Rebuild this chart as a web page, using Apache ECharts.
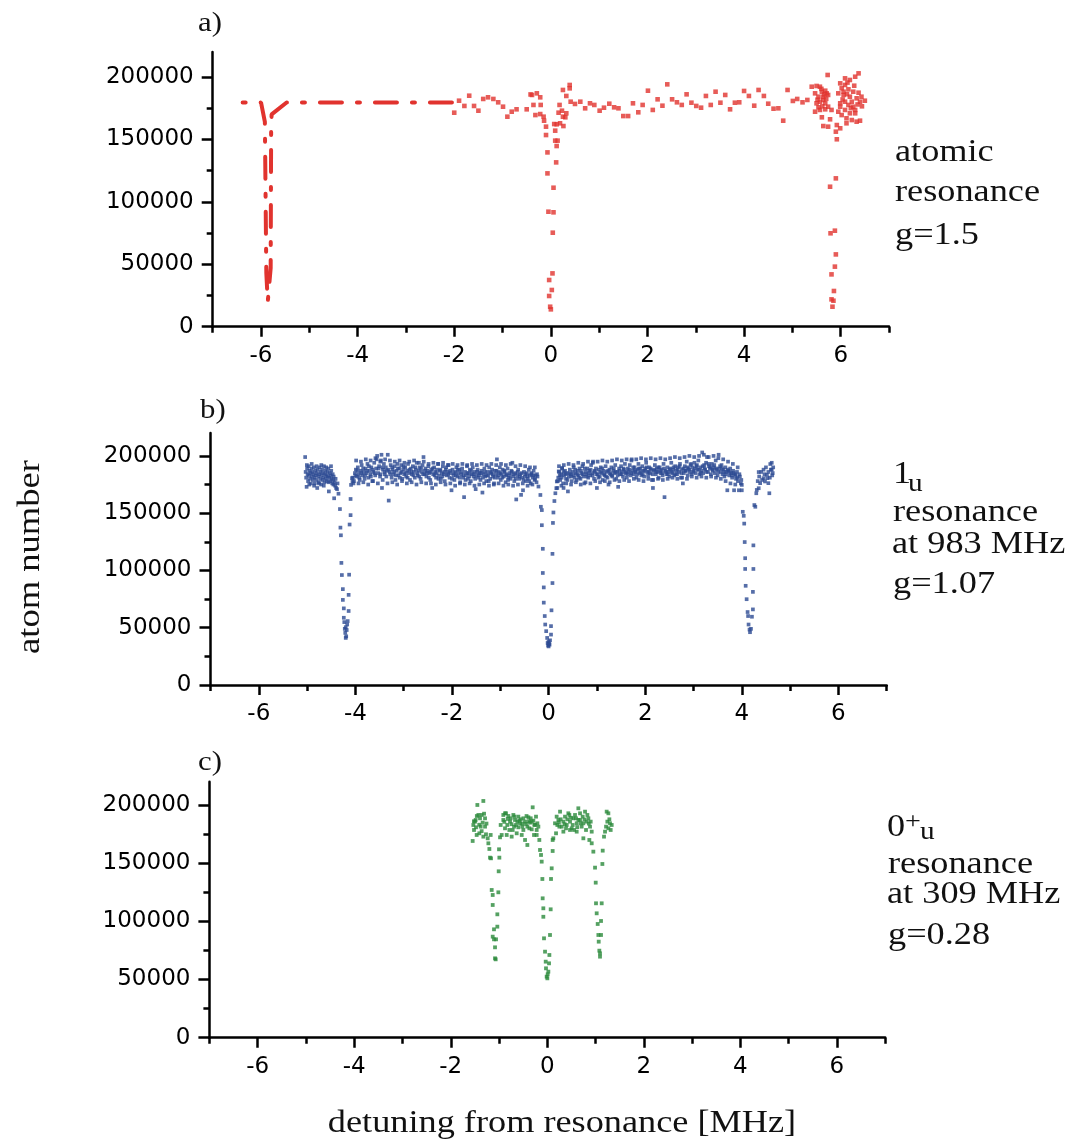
<!DOCTYPE html>
<html><head><meta charset="utf-8">
<script src="https://cdn.jsdelivr.net/npm/echarts@6/dist/echarts.min.js"></script>
<style>html,body{margin:0;padding:0;background:#fff}#c{width:1069px;height:1142px}</style>
</head><body><div id="c"></div>
<script>
// ---- tick values ----
const xTickLabels = [-6, -4, -2, 0, 2, 4, 6];
const xMinorTicks = [-7, -5, -3, -1, 1, 3, 5, 7];
const yTickLabels = [0, 50000, 100000, 150000, 200000];
const yMinorTicks = [25000, 75000, 125000, 175000];
const panelLabels = ['a)', 'b)', 'c)'];

// ---- panel a: atomic resonance (red) ----
const atomicLine = [[-6.38,179600],[-6.0,179600],[-5.92,164000],[-5.89,43000],[-5.86,20000],[-5.80,47000],[-5.79,161000],[-5.78,170000],[-5.47,179600],[-1.99,179600]];
const atomicPoints = [
[-2.00,171400],[-1.90,181000],[-1.79,176800],[-1.69,185000],[-1.59,176800],[-1.50,173000],[-1.40,182400],[-1.30,183700],[-1.19,182400],[-1.09,179700],[-0.99,176200],[-0.90,168200],[-0.81,172200],[-0.71,174100],[-0.50,174100],
[-0.42,186000],[-0.39,185600],[-0.29,186900],[-0.22,183700],[-0.36,177600],[-0.21,177600],[-0.32,169500],[-0.22,170300],[-0.15,168200],[-0.14,165000],[-0.10,160200],[-0.10,153500],[-0.07,139600],[-0.07,122800],[-0.05,92100],[-0.035,37400],[-0.035,24600],[-0.014,16000],[0.0,13900],[0.02,29400],[0.034,42700],[0.04,75300],[0.055,91600],[0.055,111300],[0.11,131600],[0.12,144700],[0.09,149000],[0.14,149000],[0.09,157000],[0.12,162100],[0.07,162300],[0.19,162900],[0.26,160700],[0.16,171400],[0.23,173000],[0.32,170900],[0.25,168200],[0.30,167700],[0.18,177600],[0.25,189600],[0.32,184800],[0.39,193600],[0.39,190900],[0.41,180200],
[0.50,178400],[0.61,180200],[0.71,174900],[0.81,178900],[0.90,177600],[1.01,173000],[1.10,175400],[1.21,178600],[1.31,175700],[1.40,174900],[1.50,168700],[1.60,168700],[1.70,178900],[1.81,171700],[1.90,177600],[2.01,189000],[2.11,173600],[2.21,182100],[2.31,177000],[2.41,194100],[2.51,182100],[2.61,179700],[2.71,177600],[2.81,186100],[2.91,179400],[3.01,176800],[3.11,175400],[3.21,184800],[3.31,177600],[3.41,188200],[3.51,179400],[3.61,185600],[3.71,174100],[3.81,179400],[3.90,179700],[4.00,188800],[4.10,184800],[4.21,177000],[4.30,189600],[4.41,184800],[4.50,178600],[4.61,174600],[4.71,174900],[4.81,165000],[4.90,189600],[5.01,180800],[5.10,182400],[5.21,179700],[5.31,181600],
[5.40,192200],[5.50,192800],[5.57,192200],[5.61,188200],[5.68,189000],[5.71,186900],[5.47,186900],[5.54,184200],[5.64,184200],[5.73,201600],[5.74,185600],[5.57,180200],[5.64,181600],[5.50,178900],[5.68,178900],[5.47,172200],[5.57,173600],[5.68,174100],[5.74,176200],[5.54,175700],[5.61,167700],[5.64,160700],[5.74,160200],[5.78,166100],[5.81,173600],[5.92,161500],[5.99,158900],[5.90,156200],[5.92,150100],[5.90,118800],[5.78,112100],[5.79,74800],[5.88,76900],[5.90,57900],[5.88,48100],[5.81,41900],[5.86,28600],[5.81,21900],[5.85,20800],[5.83,16000],
[5.99,194900],[6.09,198900],[6.19,197600],[6.30,200200],[6.37,202900],[6.09,193600],[6.02,190900],[6.16,190100],[6.26,188200],[6.37,187400],[5.95,186900],[6.06,185600],[6.19,184200],[6.33,182900],[6.43,184200],[5.99,178900],[6.09,180200],[6.23,180200],[6.40,180200],[6.50,181000],[5.95,172200],[6.09,173600],[6.19,170900],[6.30,173600],[6.02,169500],[6.12,166900],[6.23,165500],[6.33,164200],[6.40,165000],[6.12,162900],[5.99,176200],[6.26,176200],[6.16,177600],[6.30,170900],[6.06,188200],
[5.60,190500],[5.66,186000],[5.70,182500],[5.52,181800],[5.62,176500],[6.04,182000],[6.13,186200],[6.21,175000],[6.35,178000],[6.28,193000],[6.14,195500],[6.44,176500]
];

// ---- panel b: 1u resonance at 983 MHz (blue) ----
const u1Points = [
[-5.04,199e3],[-5.03,186e3],[-5.02,181e3],[-5.01,173e3],[-5.00,189e3],[-4.99,184e3],[-4.98,178e3],[-4.97,191e3],[-4.96,183e3],[-4.95,187e3],[-4.94,180e3],[-4.93,185e3],[-4.92,176e3],[-4.91,189e3],[-4.90,182e3],[-4.89,186e3],[-4.88,179e3],[-4.87,184e3],[-4.86,190e3],[-4.85,181e3],[-4.84,176e3],[-4.83,187e3],[-4.82,183e3],[-4.81,179e3],[-4.80,185e3],[-4.79,172e3],[-4.78,188e3],[-4.77,182e3],[-4.76,177e3],[-4.75,184e3],[-4.74,190e3],[-4.73,180e3],[-4.72,186e3],[-4.71,175e3],[-4.70,183e3],[-4.69,188e3],[-4.68,179e3],[-4.67,185e3],[-4.66,181e3],[-4.65,191e3],[-4.64,177e3],[-4.63,184e3],[-4.62,187e3],[-4.61,180e3],[-4.60,183e3],[-4.59,178e3],[-4.58,186e3],[-4.57,182e3],[-4.56,189e3],[-4.55,169e3],[-4.54,181e3],[-4.53,185e3],[-4.52,178e3],[-4.51,183e3],[-4.50,187e3],[-4.49,180e3],[-4.48,176e3],[-4.47,184e3],[-4.46,179e3],[-4.45,182e3],[-4.44,163e3],[-4.43,177e3],[-4.42,174e3],[-4.41,180e3],[-4.40,172e3],[-4.38,171e3],[-4.37,176e3],[-4.35,167e3],
[-5.005,192e3],[-4.955,175e3],[-4.905,193e3],[-4.855,174e3],[-4.805,191e3],[-4.755,176e3],[-4.705,192e3],[-4.655,174e3],[-4.605,190e3],[-4.555,177e3],[-4.505,191e3],[-4.455,175e3],
[-4.32,153600],[-4.31,137400],[-4.30,130700],[-4.29,106600],[-4.28,96000],[-4.26,83700],[-4.26,74300],[-4.24,66900],[-4.24,58700],[-4.23,54900],[-4.22,49000],[-4.21,45500],[-4.20,41100],[-4.19,42500],[-4.18,48000],[-4.20,50500],[-4.17,52800],[-4.16,55800],[-4.14,64600],[-4.14,78700],[-4.13,96300],[-4.12,140100],[-4.10,148300],[-4.10,162400],[-4.09,174700],[-4.07,180600],[-4.06,177700],
[-4.05,181e3],[-4.03,178e3],[-4.01,185e3],[-3.99,188e3],[-3.97,182e3],[-3.95,190e3],[-3.93,184e3],[-3.91,179e3],[-3.89,187e3],[-3.87,192e3],[-3.85,183e3],[-3.83,186e3],[-3.81,180e3],[-3.79,189e3],[-3.77,185e3],[-3.75,193e3],[-3.73,181e3],[-3.71,187e3],[-3.69,184e3],[-3.67,190e3],[-3.65,178e3],[-3.63,186e3],[-3.61,194e3],[-3.59,183e3],[-3.57,189e3],[-3.55,200e3],[-3.53,185e3],[-3.51,191e3],[-3.49,182e3],[-3.47,196e3],[-3.46,201e3],[-3.45,172e3],[-3.43,188e3],[-3.41,193e3],[-3.39,184e3],[-3.37,190e3],[-3.35,187e3],[-3.33,201e3],[-3.31,161e3],[-3.29,186e3],[-3.27,192e3],[-3.25,181e3],[-3.23,188e3],[-3.21,184e3],[-3.19,191e3],[-3.17,179e3],[-3.15,187e3],[-3.13,193e3],[-3.11,183e3],[-3.09,189e3],[-3.07,185e3],[-3.05,192e3],[-3.03,180e3],[-3.01,188e3],[-2.99,184e3],[-2.97,190e3],[-2.95,182e3],[-2.93,187e3],[-2.91,193e3],[-2.89,185e3],[-2.87,179e3],[-2.85,189e3],[-2.83,184e3],[-2.81,191e3],[-2.79,186e3],[-2.77,181e3],[-2.75,188e3],[-2.73,194e3],[-2.71,183e3],[-2.69,187e3],[-2.67,190e3],[-2.65,180e3],[-2.63,186e3],[-2.61,192e3],[-2.59,199e3],[-2.57,184e3],[-2.55,189e3],[-2.53,182e3],[-2.51,187e3],[-2.49,191e3],[-2.47,185e3],[-2.45,179e3],[-2.43,188e3],[-2.41,172e3],[-2.39,184e3],[-2.37,190e3],[-2.35,186e3],[-2.33,181e3],[-2.31,188e3],[-2.29,193e3],[-2.27,183e3],[-2.25,187e3],[-2.23,180e3],[-2.21,185e3],[-2.19,191e3],[-2.17,184e3],[-2.15,178e3],[-2.13,188e3],[-2.11,183e3],[-2.09,186e3],[-2.07,192e3],[-2.05,181e3],[-2.03,185e3],[-2.01,170e3],[-1.99,188e3],[-1.97,183e3],[-1.95,179e3],[-1.93,186e3],[-1.91,190e3],[-1.89,182e3],[-1.87,185e3],[-1.85,188e3],[-1.83,177e3],[-1.81,184e3],[-1.79,189e3],[-1.77,181e3],[-1.75,164e3],[-1.73,186e3],[-1.71,183e3],[-1.69,191e3],[-1.67,180e3],[-1.65,185e3],[-1.63,188e3],[-1.61,178e3],[-1.59,184e3],[-1.57,190e3],[-1.55,182e3],[-1.53,186e3],[-1.51,171e3],[-1.49,183e3],[-1.47,188e3],[-1.45,181e3],[-1.43,185e3],[-1.41,179e3],[-1.39,187e3],[-1.37,168e3],[-1.35,184e3],[-1.33,189e3],[-1.31,182e3],[-1.29,178e3],[-1.27,186e3],[-1.25,183e3],[-1.23,190e3],[-1.21,180e3],[-1.19,185e3],[-1.17,188e3],[-1.15,182e3],[-1.13,176e3],[-1.11,187e3],[-1.09,184e3],[-1.07,197e3],[-1.05,181e3],[-1.03,186e3],[-1.01,190e3],[-0.99,179e3],[-0.97,184e3],[-0.95,188e3],[-0.93,182e3],[-0.91,186e3],[-0.89,177e3],[-0.87,183e3],[-0.85,189e3],[-0.83,181e3],[-0.81,185e3],[-0.79,180e3],[-0.77,187e3],[-0.75,194e3],[-0.73,182e3],[-0.71,178e3],[-0.69,185e3],[-0.67,162e3],[-0.65,183e3],[-0.63,188e3],[-0.61,180e3],[-0.59,184e3],[-0.57,166e3],[-0.55,181e3],[-0.53,170e3],[-0.51,186e3],[-0.49,182e3],[-0.47,178e3],[-0.45,185e3],[-0.43,180e3],[-0.41,188e3],[-0.39,183e3],[-0.37,176e3],[-0.35,184e3],[-0.33,181e3],[-0.31,187e3],[-0.29,179e3],[-0.27,183e3],[-0.25,177e3],[-0.23,182e3],
[-4.04,176e3],[-4.00,183e3],[-3.96,187e3],[-3.92,181e3],[-3.88,185e3],[-3.84,189e3],[-3.80,183e3],[-3.76,187e3],[-3.72,191e3],[-3.68,182e3],[-3.64,188e3],[-3.60,185e3],[-3.56,197e3],[-3.52,189e3],[-3.48,184e3],[-3.44,190e3],[-3.40,186e3],[-3.36,182e3],[-3.32,188e3],[-3.28,184e3],[-3.24,190e3],[-3.20,186e3],[-3.16,183e3],[-3.12,189e3],[-3.08,181e3],[-3.04,186e3],[-3.00,191e3],[-2.96,185e3],[-2.92,181e3],[-2.88,188e3],[-2.84,186e3],[-2.80,183e3],[-2.76,190e3],[-2.72,185e3],[-2.68,182e3],[-2.64,189e3],[-2.60,184e3],[-2.56,187e3],[-2.52,185e3],[-2.48,181e3],[-2.44,186e3],[-2.40,189e3],[-2.36,183e3],[-2.32,185e3],[-2.28,180e3],[-2.24,188e3],[-2.20,182e3],[-2.16,186e3],[-2.12,190e3],[-2.08,184e3],[-2.04,187e3],[-2.00,180e3],[-1.96,185e3],[-1.92,183e3],[-1.88,188e3],[-1.84,181e3],[-1.80,186e3],[-1.76,183e3],[-1.72,179e3],[-1.68,185e3],[-1.64,182e3],[-1.60,187e3],[-1.56,184e3],[-1.52,180e3],[-1.48,186e3],[-1.44,183e3],[-1.40,185e3],[-1.36,181e3],[-1.32,186e3],[-1.28,183e3],[-1.24,178e3],[-1.20,186e3],[-1.16,184e3],[-1.12,181e3],[-1.08,187e3],[-1.04,183e3],[-1.00,185e3],[-0.96,181e3],[-0.92,187e3],[-0.88,184e3],[-0.84,179e3],[-0.80,183e3],[-0.76,186e3],[-0.72,184e3],[-0.68,180e3],[-0.64,186e3],[-0.60,182e3],[-0.56,185e3],[-0.52,179e3],[-0.48,184e3],[-0.44,182e3],[-0.40,178e3],[-0.36,185e3],[-0.32,183e3],[-0.28,180e3],[-0.24,184e3],
[-3.985,196e3],[-3.935,176e3],[-3.885,195e3],[-3.835,177e3],[-3.785,197e3],[-3.735,175e3],[-3.685,196e3],[-3.635,178e3],[-3.585,198e3],[-3.535,176e3],[-3.485,195e3],[-3.435,179e3],[-3.385,197e3],[-3.335,176e3],[-3.285,196e3],[-3.235,177e3],[-3.185,195e3],[-3.135,175e3],[-3.085,196e3],[-3.035,178e3],[-2.985,194e3],[-2.935,176e3],[-2.885,195e3],[-2.835,177e3],[-2.785,196e3],[-2.735,175e3],[-2.685,194e3],[-2.635,177e3],[-2.585,195e3],[-2.535,176e3],[-2.485,193e3],[-2.435,176e3],[-2.385,194e3],[-2.335,175e3],[-2.285,193e3],[-2.235,177e3],[-2.185,194e3],[-2.135,175e3],[-2.085,192e3],[-2.035,176e3],[-1.985,193e3],[-1.935,174e3],[-1.885,192e3],[-1.835,176e3],[-1.785,193e3],[-1.735,175e3],[-1.685,192e3],[-1.635,176e3],[-1.585,193e3],[-1.535,174e3],[-1.485,192e3],[-1.435,175e3],[-1.385,193e3],[-1.335,176e3],[-1.285,192e3],[-1.235,174e3],[-1.185,193e3],[-1.135,175e3],[-1.085,192e3],[-1.035,176e3],[-0.985,193e3],[-0.935,174e3],[-0.885,192e3],[-0.835,175e3],[-0.785,193e3],[-0.735,174e3],[-0.685,191e3],[-0.635,175e3],[-0.585,192e3],[-0.535,176e3],[-0.485,191e3],[-0.435,174e3],[-0.385,190e3],[-0.335,175e3],[-0.285,190e3],
[-0.21,173250],[-0.17,165900],[-0.16,155600],[-0.14,152700],[-0.14,139500],[-0.12,118900],[-0.12,97800],[-0.10,85200],[-0.10,71900],[-0.08,60200],[-0.07,52800],[-0.05,47000],[-0.03,41100],[-0.02,36700],[-0.01,34500],[0.0,33700],[0.0,38000],[0.01,36000],[0.02,35200],[0.03,39000],[0.05,44000],[0.05,51400],[0.06,65200],[0.08,89000],[0.08,114500],[0.09,141500],[0.10,150600],[0.12,160600],[0.14,167400],[0.16,171800],[0.17,177700],[0.21,186500],[0.28,189400],[0.31,172e3],
[0.18,172e3],[0.20,181e3],[0.22,186e3],[0.24,179e3],[0.26,184e3],[0.28,189e3],[0.30,176e3],[0.32,183e3],[0.34,187e3],[0.36,180e3],[0.38,185e3],[0.40,169e3],[0.42,182e3],[0.44,188e3],[0.46,184e3],[0.48,178e3],[0.50,186e3],[0.52,190e3],[0.54,181e3],[0.56,185e3],[0.58,179e3],[0.60,187e3],[0.62,183e3],[0.64,189e3],[0.66,180e3],[0.68,185e3],[0.70,191e3],[0.72,182e3],[0.74,176e3],[0.76,186e3],[0.78,184e3],[0.80,189e3],[0.82,181e3],[0.84,187e3],[0.86,183e3],[0.88,192e3],[0.90,185e3],[0.92,195e3],[0.94,180e3],[0.96,186e3],[0.98,189e3],[1.00,172e3],[1.02,184e3],[1.04,188e3],[1.06,182e3],[1.08,190e3],[1.10,185e3],[1.12,179e3],[1.14,187e3],[1.16,183e3],[1.18,191e3],[1.20,186e3],[1.22,181e3],[1.24,175e3],[1.26,188e3],[1.28,184e3],[1.30,190e3],[1.32,182e3],[1.34,187e3],[1.36,185e3],[1.38,192e3],[1.40,180e3],[1.42,186e3],[1.44,173e3],[1.46,189e3],[1.48,184e3],[1.50,191e3],[1.52,186e3],[1.54,182e3],[1.56,188e3],[1.58,193e3],[1.60,185e3],[1.62,181e3],[1.64,189e3],[1.66,186e3],[1.68,192e3],[1.70,183e3],[1.72,197e3],[1.74,187e3],[1.76,184e3],[1.78,190e3],[1.80,186e3],[1.82,181e3],[1.84,188e3],[1.86,193e3],[1.88,185e3],[1.90,189e3],[1.92,183e3],[1.94,191e3],[1.96,187e3],[1.98,182e3],[2.00,189e3],[2.02,194e3],[2.04,186e3],[2.06,183e3],[2.08,190e3],[2.10,185e3],[2.12,188e3],[2.14,179e3],[2.16,172e3],[2.18,187e3],[2.20,192e3],[2.22,184e3],[2.24,189e3],[2.26,186e3],[2.28,181e3],[2.30,190e3],[2.32,185e3],[2.34,188e3],[2.36,183e3],[2.38,193e3],[2.40,164e3],[2.42,187e3],[2.44,184e3],[2.46,190e3],[2.48,186e3],[2.50,182e3],[2.52,189e3],[2.54,194e3],[2.56,185e3],[2.58,188e3],[2.60,183e3],[2.62,191e3],[2.64,187e3],[2.66,184e3],[2.68,190e3],[2.70,186e3],[2.72,193e3],[2.74,181e3],[2.76,188e3],[2.78,176e3],[2.80,185e3],[2.82,191e3],[2.84,187e3],[2.86,195e3],[2.88,183e3],[2.90,189e3],[2.92,186e3],[2.94,192e3],[2.96,184e3],[2.98,190e3],[3.00,187e3],[3.02,194e3],[3.04,185e3],[3.06,191e3],[3.08,188e3],[3.10,196e3],[3.12,184e3],[3.14,190e3],[3.16,187e3],[3.18,203e3],[3.20,185e3],[3.22,192e3],[3.24,188e3],[3.26,194e3],[3.28,199e3],[3.30,186e3],[3.32,191e3],[3.34,189e3],[3.36,184e3],[3.38,193e3],[3.40,187e3],[3.42,190e3],[3.44,185e3],[3.46,196e3],[3.48,188e3],[3.50,183e3],[3.52,201e3],[3.54,189e3],[3.56,186e3],[3.58,192e3],[3.60,184e3],[3.62,188e3],[3.64,182e3],[3.66,190e3],[3.68,186e3],[3.70,170e3],[3.72,187e3],[3.74,183e3],[3.76,189e3],[3.78,185e3],[3.80,181e3],[3.82,187e3],[3.84,170e3],[3.86,184e3],[3.88,180e3],[3.90,186e3],[3.92,178e3],[3.94,170e3],[3.96,182e3],[3.98,176e3],[4.00,170e3],
[0.19,178e3],[0.23,183e3],[0.27,181e3],[0.31,186e3],[0.35,184e3],[0.39,179e3],[0.43,185e3],[0.47,182e3],[0.51,183e3],[0.55,188e3],[0.59,184e3],[0.63,181e3],[0.67,187e3],[0.71,184e3],[0.75,189e3],[0.79,182e3],[0.83,185e3],[0.87,188e3],[0.91,183e3],[0.95,187e3],[0.99,184e3],[1.03,181e3],[1.07,186e3],[1.11,189e3],[1.15,184e3],[1.19,182e3],[1.23,187e3],[1.27,185e3],[1.31,183e3],[1.35,189e3],[1.39,186e3],[1.43,183e3],[1.47,187e3],[1.51,184e3],[1.55,189e3],[1.59,186e3],[1.63,184e3],[1.67,188e3],[1.71,185e3],[1.75,190e3],[1.79,187e3],[1.83,184e3],[1.87,189e3],[1.91,186e3],[1.95,184e3],[1.99,187e3],[2.03,190e3],[2.07,186e3],[2.11,189e3],[2.15,184e3],[2.19,188e3],[2.23,186e3],[2.27,190e3],[2.31,187e3],[2.35,185e3],[2.39,189e3],[2.43,186e3],[2.47,184e3],[2.51,188e3],[2.55,186e3],[2.59,190e3],[2.63,184e3],[2.67,188e3],[2.71,191e3],[2.75,185e3],[2.79,189e3],[2.83,187e3],[2.87,190e3],[2.91,188e3],[2.95,193e3],[2.99,186e3],[3.03,189e3],[3.07,192e3],[3.11,188e3],[3.15,185e3],[3.19,191e3],[3.23,189e3],[3.27,186e3],[3.31,193e3],[3.35,190e3],[3.39,188e3],[3.43,192e3],[3.47,189e3],[3.51,186e3],[3.55,191e3],[3.59,189e3],[3.63,186e3],[3.67,184e3],[3.71,188e3],[3.75,186e3],[3.79,183e3],[3.83,185e3],[3.87,183e3],[3.91,181e3],[3.95,184e3],[3.99,179e3],
[0.215,191e3],[0.265,174e3],[0.315,192e3],[0.365,176e3],[0.415,193e3],[0.465,175e3],[0.515,192e3],[0.565,177e3],[0.615,194e3],[0.665,175e3],[0.715,193e3],[0.765,177e3],[0.815,195e3],[0.865,176e3],[0.915,194e3],[0.965,178e3],[1.015,195e3],[1.065,177e3],[1.115,196e3],[1.165,178e3],[1.215,195e3],[1.265,177e3],[1.315,196e3],[1.365,179e3],[1.415,197e3],[1.465,178e3],[1.515,196e3],[1.565,179e3],[1.615,197e3],[1.665,178e3],[1.715,196e3],[1.765,180e3],[1.815,197e3],[1.865,179e3],[1.915,198e3],[1.965,178e3],[2.015,197e3],[2.065,180e3],[2.115,198e3],[2.165,179e3],[2.215,197e3],[2.265,180e3],[2.315,198e3],[2.365,179e3],[2.415,197e3],[2.465,180e3],[2.515,198e3],[2.565,181e3],[2.615,199e3],[2.665,180e3],[2.715,198e3],[2.765,181e3],[2.815,199e3],[2.865,180e3],[2.915,200e3],[2.965,182e3],[3.015,199e3],[3.065,181e3],[3.115,200e3],[3.165,182e3],[3.215,201e3],[3.265,181e3],[3.315,199e3],[3.365,182e3],[3.415,200e3],[3.465,181e3],[3.515,198e3],[3.565,180e3],[3.615,197e3],[3.665,178e3],[3.715,195e3],[3.765,176e3],[3.815,193e3],[3.865,175e3],[3.915,190e3],
[4.00,174700],[4.02,151200],[4.04,147700],[4.05,140900],[4.06,124800],[4.07,110700],[4.07,101300],[4.08,86600],[4.10,74900],[4.12,63700],[4.13,60200],[4.14,52800],[4.16,48400],[4.17,46100],[4.19,49000],[4.21,59600],[4.23,66000],[4.23,81300],[4.24,101300],[4.24,121900],[4.26,157100],[4.28,155600],[4.30,167400],[4.31,170300],[4.35,171800],[4.38,176200],[4.35,185900],[4.45,188000],[4.45,180600],[4.52,183500],[4.55,176200],[4.59,192900],[4.62,188000],[4.57,167400],[4.48,177700],[4.53,180600],[4.64,185000],
[4.33,178e3],[4.36,182e3],[4.40,186e3],[4.42,179e3],[4.47,184e3],[4.50,190e3],[4.55,186e3],[4.58,181e3],[4.60,188e3],[4.63,183e3],[4.65,190e3],[4.62,194e3]
];

// ---- panel c: 0+u resonance at 309 MHz (green) ----
const u0Points = [
[-1.546,169060],[-1.532,182810],[-1.497,185680],[-1.477,180810],[-1.449,200000],[-1.428,191410],[-1.394,188540],[-1.380,181380],[-1.359,191410],[-1.325,203440],[-1.339,184820],[-1.325,172780],[-1.290,188540],[-1.290,181380],[-1.270,174790],[-1.235,171350],[-1.221,167060],[-1.200,162180],[-1.187,154740],[-1.166,154160],[-1.173,174220],[-1.463,174220],[-1.484,187110],[-1.408,175650],[-1.518,178510],
[-1.52,186000],[-1.46,190500],[-1.41,183000],[-1.36,177500],[-1.31,192500],[-1.26,184000],
[-1.152,126950],[-1.131,122650],[-1.131,114050],[-1.104,93140],[-1.131,86840],[-1.104,84540],[-1.062,84540],[-1.083,77660],[-1.069,67350],[-1.083,68210],[-1.035,95430],[-1.035,106030],[-1.014,124940],[-1.007,142990],[-0.993,154740],[-1.000,161900],[-0.979,172210],[-0.945,174220],[-0.966,182810],[-0.876,192840],[-0.911,191410],
[-0.807,190550],[-0.703,191410],[-0.600,189970],[-0.496,188540],[-0.392,189400],[-0.303,197990],[-0.772,185680],[-0.669,187110],[-0.565,184250],[-0.461,185680],[-0.358,184820],[-0.254,182810],[-0.876,179950],[-0.786,178510],[-0.689,181380],[-0.600,180810],[-0.496,178510],[-0.413,181380],[-0.323,179090],[-0.220,178510],[-0.841,174220],[-0.738,172780],[-0.634,175650],[-0.530,174220],[-0.461,169920],[-0.413,165620],[-0.220,174220],
[-0.911,187110],[-0.855,192840],[-0.759,188540],[-0.648,182810],[-0.551,187680],[-0.441,183670],[-0.372,179950],[-0.289,186540],[-0.185,181380],[-0.828,182810],[-0.717,178510],[-0.621,185680],[-0.517,181380],[-0.344,188540],[-0.234,189970],[-0.323,185680],[-0.275,174220],[-0.206,184250],
[-0.89,185500],[-0.82,188000],[-0.74,183500],[-0.68,190000],[-0.58,186500],[-0.52,184000],[-0.43,190500],[-0.38,186000],[-0.27,183000],
[-0.165,169920],[-0.151,161330],[-0.130,157030],[-0.116,151300],[-0.102,136400],[-0.096,119780],[-0.082,111190],[-0.082,103930],[-0.068,85400],[-0.047,73940],[-0.033,65350],[-0.027,59620],[-0.013,52460],[0.001,51020],[0.008,54500],[0.022,56760],[0.036,63910],[0.043,71080],[0.056,88270],[0.070,110330],[0.077,136400],[0.091,145560],[0.111,160460],[0.111,169920],[0.125,171350],
[0.160,184250],[0.194,189970],[0.229,187110],[0.264,194270],[0.298,181380],[0.333,185680],[0.367,189970],[0.402,182810],[0.436,192840],[0.471,185680],[0.505,179950],[0.540,188540],[0.574,191410],[0.609,184250],[0.643,197140],[0.678,187110],[0.712,181380],[0.747,171350],[0.782,194270],[0.816,185680],[0.851,188540],[0.885,181380],[0.920,177080],[0.678,192840],[0.333,177080],[0.471,178510],[0.609,177080],[0.747,184250],[0.871,169920],[0.250,181380],[0.277,187680],[0.388,179950],[0.415,187680],[0.526,182810],[0.554,178510],[0.643,187110],[0.733,189970],[0.802,178510],[0.830,191410],[0.899,185680],[0.181,175650],[0.208,182810],[0.457,191410],[0.595,188540],[0.692,184250],
[0.24,185000],[0.36,183500],[0.49,189000],[0.62,181000],[0.77,187500],[0.86,184000],
[0.920,167060],[0.954,159900],[0.989,146150],[1.003,133250],[1.009,115490],[1.023,106890],[1.044,97720],[1.058,88270],[1.065,82540],[1.078,74800],[1.092,69650],[1.092,72510],[1.113,88270],[1.113,100300],[1.127,115490],[1.141,149290],[1.148,160750],[1.175,172780],[1.196,177080],
[1.230,194270],[1.265,192840],[1.299,184250],[1.244,185680],[1.334,182810],[1.217,181380],[1.286,187680],[1.313,178510],[1.265,179950]
];

const RED = '#e1332e', BLUE = '#2c4a92', GREEN = '#2b8a3b', INK = '#000';
const grids = [
  {left: 212.7, top: 52, width: 676.3, height: 274.7},
  {left: 210.5, top: 433, width: 676.2, height: 252},
  {left: 209.4, top: 781.7, width: 675.8, height: 256}
];
const axisLS = {color: INK, width: 2.5};
const plain = v => String(v);
const xAxes = [], yAxes = [];
grids.forEach((g, i) => {
  xAxes.push({type: 'value', gridIndex: i, min: -7, max: 7, position: 'bottom',
    axisLine: {show: true, onZero: false, lineStyle: axisLS},
    axisTick: {show: true, customValues: xTickLabels, length: 10, lineStyle: axisLS},
    axisLabel: {customValues: xTickLabels, formatter: plain, fontFamily: 'DejaVu Sans', fontSize: 23, color: INK, margin: 18},
    splitLine: {show: false}});
  xAxes.push({type: 'value', gridIndex: i, min: -7, max: 7, position: 'bottom',
    axisLine: {show: false, onZero: false},
    axisTick: {show: true, customValues: xMinorTicks, length: 6, lineStyle: axisLS},
    axisLabel: {show: false}, splitLine: {show: false}});
  yAxes.push({type: 'value', gridIndex: i, min: 0, max: 220000, position: 'left',
    axisLine: {show: true, onZero: false, lineStyle: axisLS},
    axisTick: {show: true, customValues: yTickLabels, length: 11, lineStyle: axisLS},
    axisLabel: {customValues: yTickLabels, formatter: plain, fontFamily: 'DejaVu Sans', fontSize: 23, color: INK, margin: 19},
    splitLine: {show: false}});
  yAxes.push({type: 'value', gridIndex: i, min: 0, max: 220000, position: 'left',
    axisLine: {show: false, onZero: false},
    axisTick: {show: true, customValues: yMinorTicks, length: 6, lineStyle: axisLS},
    axisLabel: {show: false}, splitLine: {show: false}});
});

const SERIF = 'Liberation Serif';
const SX = 1.17;
function txt(x, baseline, text, fs, extra) {
  const o = {type: 'text', x: x, y: baseline - 0.3375 * fs, scaleX: SX,
    style: {text: text, fontFamily: SERIF, fontSize: fs, fill: '#111', textAlign: 'left', textVerticalAlign: 'middle'}};
  return Object.assign(o, extra || {});
}
const graphics = [
  txt(198, 33, panelLabels[0], 28, {scaleX: 1.1}),
  txt(200, 420, panelLabels[1], 28, {scaleX: 1.1}),
  txt(198, 772, panelLabels[2], 28, {scaleX: 1.1}),
  txt(895, 163, 'atomic', 31), txt(895, 203, 'resonance', 31), txt(895, 246, 'g=1.5', 31),
  txt(893, 485, '1', 31), txt(908, 493, 'u', 25), txt(893, 523, 'resonance', 31), txt(892, 555, 'at 983 MHz', 31), txt(893, 595, 'g=1.07', 31),
  txt(887, 838, '0', 31), txt(905, 830, '+', 24), txt(920, 841, 'u', 25), txt(888, 875, 'resonance', 31), txt(887, 905, 'at 309 MHz', 31), txt(888, 946, 'g=0.28', 31),
  {type: 'text', x: 30.5, y: 557, rotation: Math.PI / 2, scaleX: 1.18,
    style: {text: 'atom number', fontFamily: SERIF, fontSize: 31, fill: '#111', textAlign: 'center', textVerticalAlign: 'middle'}},
  {type: 'text', x: 562, y: 1123.5, scaleX: 1.17,
    style: {text: 'detuning from resonance [MHz]', fontFamily: SERIF, fontSize: 31, fill: '#111', textAlign: 'center', textVerticalAlign: 'middle'}}
];

const chart = echarts.init(document.getElementById('c'), null, {renderer: 'canvas'});
chart.setOption({
  animation: false,
  backgroundColor: '#fff',
  grid: grids.map(g => Object.assign({containLabel: false, outerBoundsMode: 'none'}, g)),
  xAxis: xAxes,
  yAxis: yAxes,
  series: [
    {type: 'line', xAxisIndex: 0, yAxisIndex: 0, data: atomicLine, symbol: 'none', showSymbol: false,
      lineStyle: {color: RED, width: 4, type: [22, 15, 3, 15], cap: 'round', dashOffset: 37}, z: 3},
    {type: 'scatter', xAxisIndex: 0, yAxisIndex: 0, data: atomicPoints, symbol: 'rect', symbolSize: 4.6,
      itemStyle: {color: RED}},
    {type: 'scatter', xAxisIndex: 2, yAxisIndex: 2, data: u1Points, symbol: 'rect', symbolSize: 3.7,
      itemStyle: {color: BLUE}},
    {type: 'scatter', xAxisIndex: 4, yAxisIndex: 4, data: u0Points, symbol: 'rect', symbolSize: 3.8,
      itemStyle: {color: GREEN}}
  ],
  graphic: graphics
});
</script>
</body></html>
